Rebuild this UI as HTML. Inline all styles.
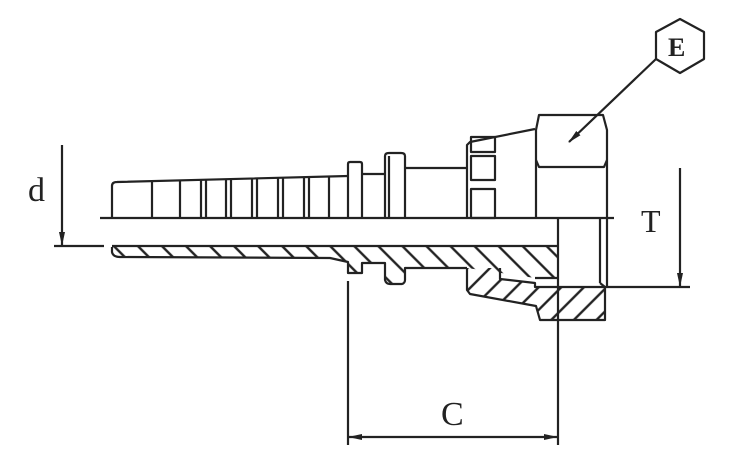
<!DOCTYPE html>
<html><head><style>body{margin:0;background:#fff}svg{display:block}</style></head><body>
<svg width="737" height="459" viewBox="0 0 737 459" xmlns="http://www.w3.org/2000/svg">
<defs>
<pattern id="h" width="17" height="17" patternUnits="userSpaceOnUse" patternTransform="rotate(-45)">
<line x1="8.5" y1="-1" x2="8.5" y2="18" stroke="#222" stroke-width="2.4"/>
</pattern>
<pattern id="h2" width="16" height="16" patternUnits="userSpaceOnUse" patternTransform="rotate(45)">
<line x1="8" y1="-1" x2="8" y2="17" stroke="#222" stroke-width="2.4"/>
</pattern>
<marker id="a" markerWidth="14" markerHeight="8" refX="13" refY="4" orient="auto-start-reverse" markerUnits="userSpaceOnUse"><path d="M0,1 L14,4 L0,7 Z" fill="#222"/></marker>
</defs>
<g fill="none" stroke="#222" stroke-width="2.2" stroke-linejoin="round">
<path d="M112,247 L112,252 Q113,257 120,257 L330,258 L348,262 L348,273 L362,273 L362,263 L385,263 L385,280 Q386,284 390,284 L402,284 Q405,283 405,280 L405,268 L467,268 L535,278 L558,278 L558,247 Z" fill="url(#h)" stroke="none"/>
<path d="M112,247 L112,252 Q113,257 120,257 L330,258 L348,262 L348,273 L362,273 L362,263 L385,263 L385,280 Q386,284 390,284 L402,284 Q405,283 405,280 L405,268 L467,268"/>
<path d="M467,268 L500,268 L500,279 L535,283 L535,287 L600,287 L600,283 L605,287 L605,320 L540,320 L536,306 L470,294 L467,290 Z" fill="url(#h2)" stroke="none"/>
<path d="M467,268 L467,290 L470,294 L536,306 L540,320 L605,320 L605,287 L600,283"/>
<path d="M500,268 L500,279 L535,283 L535,287 L600,287"/>
<path d="M535,278 L558,278"/>
<line x1="100" y1="218" x2="614" y2="218"/>
<line x1="112" y1="246" x2="558" y2="246"/>
<line x1="558" y1="218" x2="558" y2="330"/>
<line x1="600" y1="218" x2="600" y2="283"/>
<line x1="607" y1="218" x2="607" y2="287"/>
<path d="M112,218 L112,186 Q112,182 117,182 L348,176"/>
<g>
<line x1="152" y1="181" x2="152" y2="218"/><line x1="180" y1="181" x2="180" y2="218"/>
<line x1="201" y1="180" x2="201" y2="218"/><line x1="206" y1="180" x2="206" y2="218"/>
<line x1="226" y1="179" x2="226" y2="218"/><line x1="231" y1="179" x2="231" y2="218"/>
<line x1="252" y1="179" x2="252" y2="218"/><line x1="257" y1="179" x2="257" y2="218"/>
<line x1="278" y1="178" x2="278" y2="218"/><line x1="283" y1="178" x2="283" y2="218"/>
<line x1="304" y1="178" x2="304" y2="218"/><line x1="309" y1="178" x2="309" y2="218"/>
<line x1="329" y1="177" x2="329" y2="218"/>
</g>
<path d="M348,218 L348,164 Q348,162 350,162 L360,162 Q362,162 362,164 L362,218"/>
<path d="M362,174 L385,174"/>
<path d="M385,218 L385,156 Q385,153 389,153 L401,153 Q405,153 405,156 L405,218"/>
<line x1="389" y1="156" x2="389" y2="218"/>
<path d="M405,168 L467,168"/>
<path d="M467,218 L467,145 L470,142 L535,129"/>
<rect x="471" y="137" width="24" height="15"/>
<rect x="471" y="156" width="24" height="24"/>
<rect x="471" y="189" width="24" height="29"/>
<path d="M536,218 L536,130 L539,115 L603,115 L607,130 L607,218"/>
<path d="M536,160 L539,167 L604,167 L607,160"/>
<polygon points="680,19 704,32 704,59 680,73 656,59 656,32"/>
<line x1="656" y1="59" x2="569" y2="142" marker-end="url(#a)"/>
<line x1="62" y1="145" x2="62" y2="245" marker-end="url(#a)"/>
<line x1="54" y1="246" x2="104" y2="246"/>
<line x1="680" y1="168" x2="680" y2="286" marker-end="url(#a)"/>
<line x1="600" y1="287" x2="690" y2="287"/>
<line x1="348" y1="281" x2="348" y2="445"/>
<line x1="558" y1="330" x2="558" y2="445"/>
<line x1="349" y1="437" x2="557" y2="437" marker-end="url(#a)" marker-start="url(#a)"/>
</g>
<g font-family="'Liberation Serif',serif" fill="#222">
<text x="28" y="201" font-size="34">d</text>
<text x="641" y="232" font-size="32">T</text>
<text x="441" y="425" font-size="34">C</text>
<text x="668" y="56" font-size="26" font-weight="bold">E</text>
</g>
</svg>
</body></html>
